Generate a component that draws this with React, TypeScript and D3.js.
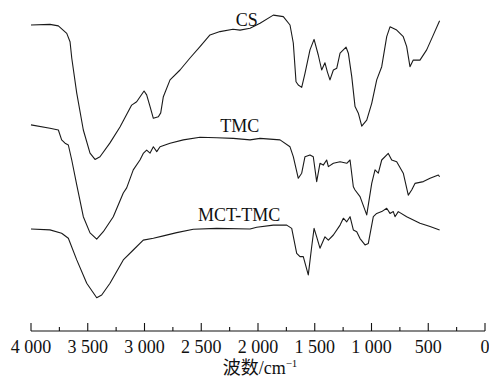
import { useEffect, useRef } from "react";
import * as d3 from "d3";

// wavenumber (cm-1) / transmittance (a.u.)
const csWn = [4000, 3833, 3759, 3685, 3656, 3641, 3597, 3539, 3480, 3436, 3392, 3304, 3216, 3113, 3069, 3004, 2981, 2951, 2922, 2878, 2857, 2834, 2775, 2687, 2599, 2511, 2423, 2335, 2220, 2158, 2070, 1982, 1865, 1777, 1718, 1689, 1665, 1645, 1615, 1586, 1542, 1506, 1469, 1439, 1410, 1389, 1366, 1336, 1306, 1277, 1224, 1204, 1174, 1145, 1116, 1086, 1042, 998, 954, 910, 866, 837, 778, 720, 690, 661, 632, 573, 514, 455, 400];
const csT = [95.0, 95.2, 94.7, 92.2, 89.4, 84.0, 72.3, 60.0, 52.3, 50.2, 51.1, 55.7, 61.0, 68.3, 69.4, 73.0, 71.7, 67.8, 63.9, 64.4, 65.7, 71.1, 76.7, 80.0, 84.0, 87.8, 91.7, 92.8, 93.6, 93.3, 93.9, 95.6, 98.3, 97.8, 95.0, 89.0, 76.1, 75.0, 74.2, 78.9, 86.7, 90.2, 85.0, 80.0, 82.4, 79.4, 76.7, 80.0, 80.6, 85.6, 87.6, 85.6, 77.8, 67.8, 65.6, 61.3, 63.3, 68.9, 76.7, 81.1, 91.1, 94.4, 93.3, 91.1, 87.8, 81.1, 83.3, 83.3, 86.7, 91.7, 96.4];

const tmcWn = [4000, 3833, 3759, 3730, 3700, 3671, 3641, 3597, 3539, 3480, 3421, 3363, 3275, 3187, 3157, 3099, 3040, 3011, 2981, 2951, 2922, 2892, 2863, 2775, 2658, 2511, 2364, 2218, 2070, 1982, 1806, 1718, 1689, 1645, 1615, 1586, 1542, 1513, 1483, 1454, 1425, 1395, 1380, 1336, 1277, 1218, 1189, 1160, 1145, 1101, 1042, 998, 969, 940, 910, 852, 822, 778, 720, 676, 646, 617, 543, 484, 411, 400];
const tmcT = [61.7, 60.6, 60.0, 56.7, 55.6, 55.0, 50.0, 41.7, 31.1, 25.7, 23.6, 26.1, 31.1, 39.0, 40.7, 46.7, 50.0, 52.2, 53.3, 52.3, 54.4, 52.8, 54.4, 55.6, 56.7, 57.6, 57.4, 57.2, 56.7, 57.2, 56.7, 54.4, 51.1, 43.9, 45.6, 51.1, 51.7, 51.1, 42.8, 48.9, 48.3, 50.0, 47.8, 48.9, 49.4, 48.9, 50.0, 41.1, 40.0, 37.8, 31.7, 42.2, 46.7, 45.6, 50.0, 52.2, 50.0, 49.4, 45.6, 38.3, 40.0, 42.2, 42.8, 43.9, 45.0, 44.4];

const mctWn = [4000, 3833, 3730, 3671, 3597, 3509, 3421, 3377, 3304, 3187, 3099, 3011, 2922, 2834, 2716, 2570, 2364, 2070, 2011, 1865, 1747, 1703, 1659, 1630, 1601, 1557, 1527, 1506, 1483, 1454, 1410, 1380, 1336, 1277, 1248, 1218, 1189, 1160, 1130, 1101, 1057, 1028, 984, 954, 910, 866, 837, 808, 793, 764, 690, 573, 484, 400];
const mctT = [27.0, 26.7, 25.6, 23.9, 16.7, 8.9, 4.1, 5.0, 8.9, 16.7, 20.0, 23.3, 23.9, 24.7, 25.8, 26.9, 27.2, 27.0, 27.6, 28.3, 28.3, 27.2, 18.9, 17.8, 17.8, 11.7, 21.1, 27.2, 24.4, 20.6, 24.4, 23.3, 25.0, 28.3, 30.6, 29.4, 31.1, 26.7, 26.1, 23.8, 21.7, 22.2, 31.1, 32.2, 32.8, 33.9, 32.2, 32.8, 31.1, 32.8, 31.1, 28.9, 27.8, 26.7];

const seriesNames = ["CS", "TMC", "MCT-TMC"];
const labelWn = [2100, 2161, 2166];
const labelT = [94.7, 59.2, 29.7];

const majorTicks = [4000, 3500, 3000, 2500, 2000, 1500, 1000, 500, 0];
const minorTicks = [3750, 3250, 2750, 2250, 1750, 1250, 750, 250];

const W = 489;
const H = 378;
const SERIF = "'Times New Roman', 'Liberation Serif', 'Noto Sans CJK SC', serif";

export default function App() {
  const svgRef = useRef<SVGSVGElement>(null);

  useEffect(() => {
    if (!svgRef.current) return;
    const svg = d3.select(svgRef.current);
    svg.selectAll("*").remove();

    const x = d3.scaleLinear().domain([4000, 0]).range([31, 485]);
    const y = d3.scaleLinear().domain([0, 100]).range([310, 10]);
    const axisY = 331;

    svg.append("rect").attr("width", W).attr("height", H).attr("fill", "#fff");

    const line = d3
      .line<[number, number]>()
      .x((d) => x(d[0]))
      .y((d) => y(d[1]));

    const series = [
      d3.zip(csWn, csT) as [number, number][],
      d3.zip(tmcWn, tmcT) as [number, number][],
      d3.zip(mctWn, mctT) as [number, number][],
    ];

    series.forEach((s) => {
      svg
        .append("path")
        .datum(s)
        .attr("fill", "none")
        .attr("stroke", "#1a1a1a")
        .attr("stroke-width", 1.1)
        .attr("stroke-linejoin", "round")
        .attr("d", line);
    });

    // Curve labels
    seriesNames.forEach((name, i) => {
      svg
        .append("text")
        .attr("x", x(labelWn[i]))
        .attr("y", y(labelT[i]))
        .attr("text-anchor", "middle")
        .attr("font-family", SERIF)
        .attr("font-size", 18)
        .attr("fill", "#111")
        .text(name);
    });

    // X axis
    const ax = svg.append("g");
    ax.append("line")
      .attr("x1", x(4000))
      .attr("x2", x(0))
      .attr("y1", axisY)
      .attr("y2", axisY)
      .attr("stroke", "#111")
      .attr("stroke-width", 1.2);

    ax.selectAll(".major")
      .data(majorTicks)
      .join("line")
      .attr("x1", (d) => x(d))
      .attr("x2", (d) => x(d))
      .attr("y1", axisY)
      .attr("y2", axisY - 8)
      .attr("stroke", "#111")
      .attr("stroke-width", 1.1);

    ax.selectAll(".minor")
      .data(minorTicks)
      .join("line")
      .attr("x1", (d) => x(d))
      .attr("x2", (d) => x(d))
      .attr("y1", axisY)
      .attr("y2", axisY - 4)
      .attr("stroke", "#111")
      .attr("stroke-width", 1.1);

    const fmt = (d: number) =>
      d >= 1000 ? `${Math.floor(d / 1000)} ${String(d % 1000).padStart(3, "0")}` : `${d}`;

    ax.selectAll(".lbl")
      .data(majorTicks)
      .join("text")
      .attr("x", (d) => x(d))
      .attr("y", axisY + 22)
      .attr("text-anchor", "middle")
      .attr("font-family", SERIF)
      .attr("font-size", 18)
      .attr("fill", "#111")
      .text((d) => fmt(d));

    const title = svg
      .append("text")
      .attr("x", 260)
      .attr("y", 374)
      .attr("text-anchor", "middle")
      .attr("font-family", SERIF)
      .attr("font-size", 18)
      .attr("fill", "#111");
    title.append("tspan").text("波数/cm");
    title.append("tspan").attr("font-size", 11).attr("dy", -7).text("−1");
  }, []);

  return (
    <svg
      ref={svgRef}
      width={W}
      height={H}
      style={{ position: "absolute", left: 0, top: 0, display: "block" }}
    />
  );
}
